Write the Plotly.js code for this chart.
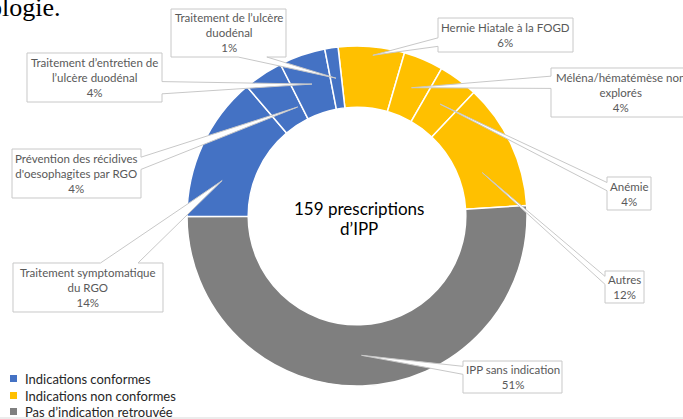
<!DOCTYPE html>
<html><head><meta charset="utf-8">
<script src="https://cdn.plot.ly/plotly-3.0.1.min.js"></script>
<style>html,body{margin:0;padding:0;background:#fff;overflow:hidden}#chart{width:683px;height:419px}</style>
</head><body><div id="chart"></div>
<script>
// ---- data ----
const categories = [
  "Hernie Hiatale à la FOGD",
  "Méléna/hématémèse non<br>explorés",
  "Anémie",
  "Autres",
  "IPP sans indication",
  "Traitement symptomatique<br>du RGO",
  "Prévention des récidives<br>d'oesophagites par RGO",
  "Traitement d’entretien de<br>l’ulcère duodénal",
  "Traitement de l’ulcère<br>duodénal"
];
const counts = [10, 6, 6, 19, 81, 22, 6, 7, 2];
const groups = ["non", "non", "non", "non", "pas", "conf", "conf", "conf", "conf"];
const groupKeys = ["conf", "non", "pas"];
const groupNames = ["Indications conformes", "Indications non conformes", "Pas d’indication retrouvée"];
const groupColors = ["#4472C4", "#FFC000", "#7F7F7F"];
const centerLines = ["159 prescriptions", "d’IPP"];
const headText = "ologie.";

// ---- layout (pixels) ----
const W = 683, H = 419;
const CX = 357, CY = 216, R = 170, HOLE = 0.64, ROT = -6.4;
// callout boxes [left, top, right, bottom]
const boxes = [
  [438, 18, 573, 52],
  [551, 68, 690, 117],
  [607, 177, 651, 210],
  [605, 271, 644, 303],
  [463, 361, 562, 393],
  [13, 263, 163, 312],
  [12, 149, 141, 198],
  [27, 53, 162, 102],
  [171, 9, 286, 57]
];
// tip tweaks: [angle shift in degrees, radius fraction]
const tips = [[0.7, 0.95], [0, 0.82], [0, 0.82], [6, 0.78], [0, 0.82], [-10, 0.82], [5, 0.73], [0, 0.82], [0, 0.82]];

const px = x => x / W;
const py = y => 1 - y / H;

const colorOf = g => groupColors[groupKeys.indexOf(g)];
const total = counts.reduce((a, b) => a + b, 0);

const trace = {
  type: "pie",
  labels: categories,
  values: counts,
  sort: false,
  direction: "clockwise",
  rotation: ROT,
  hole: HOLE,
  textinfo: "none",
  hoverinfo: "none",
  marker: { colors: groups.map(colorOf), line: { color: "#FFFFFF", width: 1.5 } },
  domain: { x: [px(CX - R), px(CX + R)], y: [py(CY + R), py(CY - R)] },
  showlegend: false
};

const shapes = [];
const annotations = [];

function calloutPath(b, tx, ty) {
  const [l, t, r, bt] = b;
  const w = r - l, h = bt - t, hc = (l + r) / 2, vc = (t + bt) / 2;
  const dxPos = tx - hc, dyPos = ty - vc;
  const horiz = Math.abs(dxPos * h) > Math.abs(dyPos * w);
  const x1 = l + w * (dxPos > 0 ? 7 : 2) / 12, x2 = l + w * (dxPos > 0 ? 10 : 5) / 12;
  const y1 = t + h * (dyPos > 0 ? 7 : 2) / 12, y2 = t + h * (dyPos > 0 ? 10 : 5) / 12;
  let pts;
  if (horiz && dxPos > 0) pts = [[l, t], [r, t], [r, y1], [tx, ty], [r, y2], [r, bt], [l, bt]];
  else if (horiz) pts = [[l, t], [r, t], [r, bt], [l, bt], [l, y2], [tx, ty], [l, y1]];
  else if (dyPos > 0) pts = [[l, t], [r, t], [r, bt], [x2, bt], [tx, ty], [x1, bt], [l, bt]];
  else pts = [[l, t], [x1, t], [tx, ty], [x2, t], [r, t], [r, bt], [l, bt]];
  return "M" + pts.map(p => px(p[0]).toFixed(5) + "," + py(p[1]).toFixed(5)).join(" L") + " Z";
}

let cum = 0;
counts.forEach((v, i) => {
  const a0 = ROT + cum / total * 360;
  cum += v;
  const a1 = ROT + cum / total * 360;
  const mid = (a0 + a1) / 2 + tips[i][0];
  const rr = R * tips[i][1];
  const tx = CX + rr * Math.sin(mid * Math.PI / 180);
  const ty = CY - rr * Math.cos(mid * Math.PI / 180);
  const b = boxes[i];
  shapes.push({
    type: "path", xref: "paper", yref: "paper", layer: "above",
    path: calloutPath(b, tx, ty),
    fillcolor: "#FFFFFF", line: { color: "#C8C8C8", width: 1 }
  });
  const pct = Math.round(v / total * 100) + "%";
  annotations.push({
    xref: "paper", yref: "paper", x: px((b[0] + b[2]) / 2), y: py((b[1] + b[3]) / 2),
    xanchor: "center", yanchor: "middle", showarrow: false, align: "center",
    text: categories[i] + "<br>" + pct,
    font: { family: "Lato, sans-serif", size: 11.5, color: "#595959" }
  });
});

// center text
const centerY = [208, 228];
centerLines.forEach((t, k) => {
  annotations.push({
    xref: "paper", yref: "paper", x: px(CX + 2), y: py(centerY[k]), xanchor: "center", yanchor: "middle",
    showarrow: false, align: "center", text: t,
    font: { family: "Lato, sans-serif", size: 17, color: "#000000" }
  });
});

// head text (cropped word)
annotations.push({
  xref: "paper", yref: "paper", x: px(63), y: py(7), xanchor: "right", yanchor: "middle",
  showarrow: false, text: headText,
  font: { family: "Liberation Serif, serif", size: 26, color: "#000000" }
});

// legend
const legY = [378.5, 395.5, 411.5];
groupKeys.forEach((g, k) => {
  shapes.push({
    type: "rect", xref: "paper", yref: "paper",
    x0: px(10), x1: px(17), y0: py(legY[k] - 3.5), y1: py(legY[k] + 3.5),
    fillcolor: groupColors[k], line: { width: 0 }
  });
  annotations.push({
    xref: "paper", yref: "paper", x: px(23), y: py(legY[k]), xanchor: "left", yanchor: "middle",
    showarrow: false, text: groupNames[k],
    font: { family: "Lato, sans-serif", size: 13, color: "#262626" }
  });
});

// bottom border line
shapes.push({
  type: "line", xref: "paper", yref: "paper", x0: 0, x1: 1, y0: py(418), y1: py(418),
  line: { color: "#D9D9D9", width: 1 }
});

const layout = {
  width: W, height: H,
  margin: { l: 0, r: 0, t: 0, b: 0 },
  paper_bgcolor: "#FFFFFF", plot_bgcolor: "#FFFFFF",
  showlegend: false,
  shapes: shapes,
  annotations: annotations
};

Plotly.newPlot("chart", [trace], layout, { staticPlot: true, displayModeBar: false });
</script>
</body></html>
